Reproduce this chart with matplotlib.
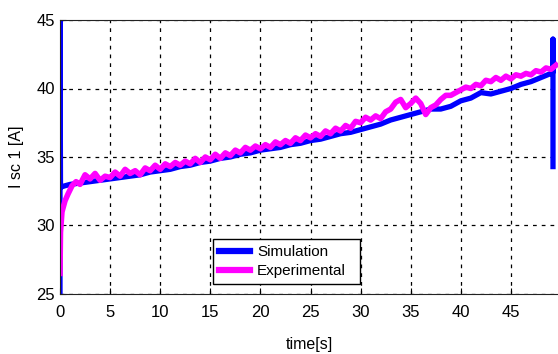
import matplotlib.pyplot as plt

# ---- dane
sim_t = [0, 0, 0.05, 0.5, 1, 2, 3, 4, 5, 6, 7, 8, 9, 10, 11, 12, 13, 14, 15, 16, 17, 18, 19, 20,
         21, 22, 23, 24, 25, 26, 27, 28, 29, 30, 31, 32, 33, 34, 35, 36, 37, 38, 39, 40,
         41, 42, 43, 44, 45, 46, 47, 48, 49, 49.2, 49.2, 49.2]
sim_i = [25, 45, 32.8, 32.9, 33.0, 33.1, 33.2, 33.3, 33.4, 33.5, 33.6, 33.7, 33.9, 34.0, 34.1, 34.3,
         34.4, 34.6, 34.7, 34.9, 35.0, 35.2, 35.3, 35.5, 35.6, 35.7, 35.9, 36.0, 36.2, 36.3,
         36.5, 36.7, 36.8, 37.0, 37.2, 37.4, 37.7, 37.9, 38.1, 38.3, 38.5, 38.5, 38.7, 39.1,
         39.3, 39.7, 39.6, 39.8, 40.0, 40.3, 40.5, 40.8, 41.1, 41.2, 43.6, 34.3]

exp_t = [0, 0.05, 0.2, 0.5, 0.8, 1.2, 1.6, 2.0, 2.5, 3.0, 3.5, 4.0, 4.5, 5.0, 5.5, 6.0, 6.5, 7.0,
         7.5, 8.0, 8.5, 9.0, 9.5, 10, 10.5, 11, 11.5, 12, 12.5, 13, 13.5, 14, 14.5, 15, 15.5,
         16, 16.5, 17, 17.5, 18, 18.5, 19, 19.5, 20, 20.5, 21, 21.5, 22, 22.5, 23, 23.5, 24,
         24.5, 25, 25.5, 26, 26.5, 27, 27.5, 28, 28.5, 29, 29.5, 30, 30.5, 31, 31.5, 32, 32.5,
         33, 33.5, 34, 34.5, 35, 35.5, 36, 36.5, 37, 37.5, 38, 38.5, 39, 39.5, 40, 40.5, 41,
         41.5, 42, 42.5, 43, 43.5, 44, 44.5, 45, 45.5, 46, 46.5, 47, 47.5, 48, 48.5, 49, 49.5]
exp_i = [26.5, 29.5, 31.0, 31.8, 32.3, 32.9, 33.2, 33.0, 33.7, 33.4, 33.8, 33.3, 33.6, 33.5, 33.9,
         33.6, 34.1, 33.8, 34.0, 33.7, 34.2, 34.0, 34.4, 34.1, 34.5, 34.3, 34.6, 34.4, 34.7,
         34.5, 34.9, 34.6, 35.0, 34.8, 35.2, 34.9, 35.3, 35.1, 35.5, 35.3, 35.7, 35.5, 35.8,
         35.6, 35.9, 35.7, 36.1, 35.9, 36.2, 36.0, 36.4, 36.2, 36.6, 36.4, 36.7, 36.5, 36.9,
         36.7, 37.1, 36.9, 37.3, 37.1, 37.6, 37.5, 37.9, 37.7, 38.0, 37.8, 38.3, 38.5, 39.0,
         39.2, 38.6, 38.9, 39.3, 38.9, 38.1, 38.6, 38.8, 39.2, 39.5, 39.5, 39.7, 39.9, 40.1,
         40.0, 40.3, 40.2, 40.6, 40.5, 40.8, 40.6, 40.9, 40.7, 41.0, 40.9, 41.1, 41.0, 41.3,
         41.2, 41.5, 41.4, 41.7]

xticks = [0, 5, 10, 15, 20, 25, 30, 35, 40, 45]
yticks = [25, 30, 35, 40, 45]

plt.rcParams['font.family'] = ['Liberation Sans', 'DejaVu Sans']
plt.rcParams['xtick.direction'] = 'in'
plt.rcParams['ytick.direction'] = 'in'

fig = plt.figure(figsize=(5.58, 3.54), dpi=100)
ax = fig.add_axes([60 / 558, 1 - 294 / 354, 498 / 558, 274 / 354])

ax.plot(sim_t, sim_i, color='#0000ff', lw=3.8, label='Simulation')
ax.plot(exp_t, exp_i, color='#ff00ff', lw=4.0, label='Experimental')

ax.set_xlim(0, 49.7)
ax.set_ylim(25, 45)
ax.set_xticks(xticks)
ax.set_yticks(yticks)
ax.tick_params(labelsize=12, length=4, color='black')
ax.tick_params(axis='x', pad=8)
ax.grid(True, color='black', linestyle=(0, (3, 4)), linewidth=0.9)
for s in ax.spines.values():
    s.set_color('#222222')
ax.spines['right'].set_visible(False)

ax.set_xlabel('time[s]', fontsize=11.5, labelpad=12)
ax.set_ylabel('I sc 1 [A]', fontsize=11.5, labelpad=9)

leg = ax.legend(loc='lower left', bbox_to_anchor=(0.307, 0.036, 0.295, 0.227), mode='expand',
                fontsize=11, fancybox=False, framealpha=1, edgecolor='black',
                handlelength=2.0, handletextpad=0.5, borderaxespad=0, labelspacing=0.3)
leg.get_frame().set_linewidth(1.0)
for h in leg.get_lines():
    h.set_linewidth(4.5)

fig.savefig('out.png', dpi=100)
